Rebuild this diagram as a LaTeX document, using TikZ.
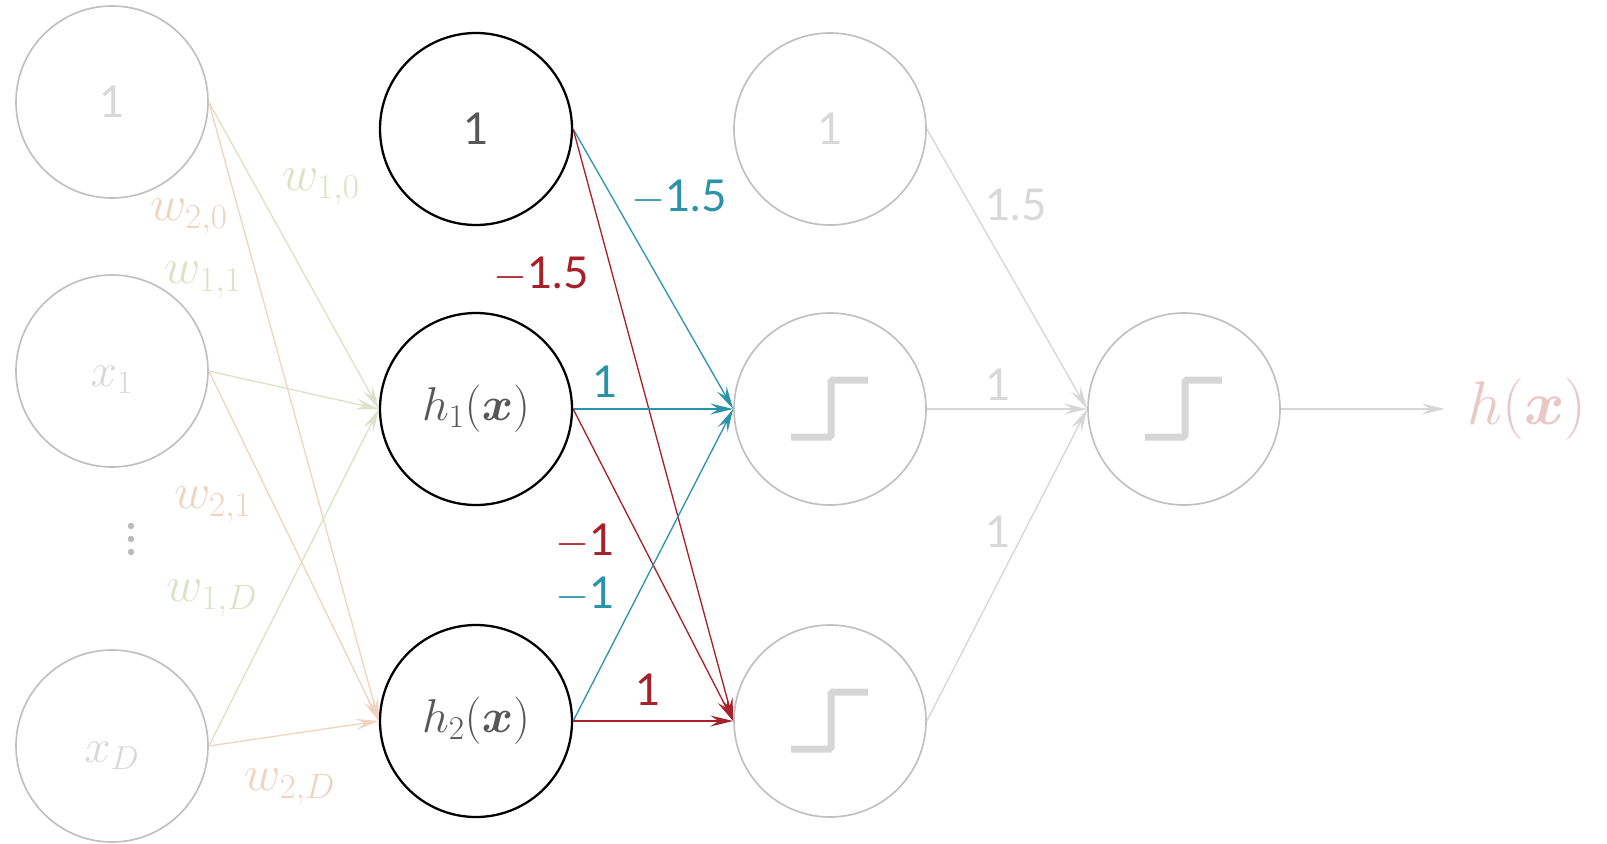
\RequirePackage{fix-cm}
\documentclass[tikz,border=0pt]{standalone}
\usepackage{amsmath,amssymb,bm}
\usepackage{fontspec}
\setmainfont{Lato}
\usepackage{tikz}
\usetikzlibrary{positioning,arrows.meta}
\usepackage{xcolor}
\definecolor{sage}{HTML}{DAE3C6}
\definecolor{peach}{HTML}{EFD4BF}
\definecolor{tealw}{HTML}{2B93A7}
\definecolor{redw}{HTML}{A82029}
\definecolor{ringgray}{HTML}{C0C0C0}
\definecolor{linegray}{HTML}{D6D6D6}
\definecolor{txtgray}{HTML}{D8D8D8}
\definecolor{darktxt}{HTML}{575757}
\definecolor{pinkw}{HTML}{E9C7C7}
\definecolor{dotgray}{HTML}{BBBBBB}
\newcommand{\mathbig}[1]{{\fontsize{27}{32}\selectfont$#1$}}
\newcommand{\wbig}[1]{{\fontsize{28.5}{34}\selectfont$#1$}}

\begin{document}
\begin{tikzpicture}[
  unit/.style={circle, draw=ringgray, line width=0.95pt, minimum size=3.84cm, inner sep=0pt, text=txtgray, font=\fontsize{25}{30}\selectfont},
  hid/.style={circle, draw=black, line width=1.3pt, minimum size=3.84cm, inner sep=0pt, text=darktxt, font=\fontsize{25}{30}\selectfont},
  act/.style={unit},
  lbl/.style={inner sep=1pt, font=\fontsize{25}{30}\selectfont},
  outlbl/.style={inner sep=0.45cm, text=pinkw, font=\fontsize{35}{42}\selectfont},
  stepln/.style={draw=linegray, line width=0.14cm, rounded corners=1pt},
  arr/.style={-{Stealth[length=0.46cm, width=0.22cm, inset=0.17cm]}, line width=0.75pt},
  on grid
]
  \useasboundingbox (0,0) rectangle (32.14,-16.86);

  \node[unit] (in0) at (2.24,-2.04) {1};
  \node[unit, below=5.38cm of in0] (in1) {\raisebox{-0.31cm}[0pt][0pt]{\mathbig{x_1}}};
  \node[unit, below=7.5cm of in1]  (inD) {\raisebox{-0.33cm}[0pt][0pt]{\mathbig{x_D}}};
  \coordinate (vd) at (2.62,-10.78);
  \foreach \k in {-1,0,1} \fill[dotgray] ([yshift=\k*0.26cm]vd) circle (0.065cm);

  \node[hid] (b1) at (9.52,-2.58) {1};
  \node[hid, below=5.6cm of b1]  (h1) {\mathbig{h_1(\bm{x})}};
  \node[hid, below=6.24cm of h1] (h2) {\mathbig{h_2(\bm{x})}};

  \node[unit, right=7.08cm of b1] (b2) {1};
  \node[act, right=7.08cm of h1]  (s1) {};
  \node[act, right=7.08cm of h2]  (s2) {};
  \node[act, right=7.08cm of s1]  (o)  {};
  \node[outlbl, right=6.86cm of o] (hx) {$h(\bm{x})$};
  \foreach \n in {s1,s2,o}
    \draw[stepln] ([shift={(-0.78,-0.56)}]\n.center) -- ++(0.80,0) -- ++(0,1.14) -- ++(0.74,0);

  \draw[arr, sage]  (in0.east) -- (h1.west); \draw[arr, peach] (in0.east) -- (h2.west);
  \draw[arr, sage]  (in1.east) -- (h1.west); \draw[arr, peach] (in1.east) -- (h2.west);
  \draw[arr, sage]  (inD.east) -- (h1.west); \draw[arr, peach] (inD.east) -- (h2.west);

  \draw[arr, tealw] (b1.east) -- (s1.west); \draw[arr, redw] (b1.east) -- (s2.west);
  \draw[arr, tealw] (h1.east) -- (s1.west); \draw[arr, redw] (h1.east) -- (s2.west);
  \draw[arr, tealw] (h2.east) -- (s1.west); \draw[arr, redw] (h2.east) -- (s2.west);

  \draw[arr, linegray] (b2.east) -- (o.west);
  \draw[arr, linegray] (s1.east) -- (o.west);
  \draw[arr, linegray] (s2.east) -- (o.west);
  \draw[arr, linegray] (o.east) -- (o.east -| hx.west);

  \node[lbl, text=sage]  (w10) at (6.42,-3.74)  {\wbig{w_{1,0}}};
  \node[lbl, text=peach] (w20) at (3.78,-4.34)  {\wbig{w_{2,0}}};
  \node[lbl, text=sage]  (w11) at (4.06,-5.60)  {\wbig{w_{1,1}}};
  \node[lbl, text=peach] (w21) at (4.26,-10.10) {\wbig{w_{2,1}}};
  \node[lbl, text=sage]  (w1D) at (4.24,-11.96) {\wbig{w_{1,D}}};
  \node[lbl, text=peach] (w2D) at (5.80,-15.74) {\wbig{w_{2,D}}};

  \node[lbl, text=tealw] (t0) at (13.58,-3.96)  {$-$1.5};
  \node[lbl, text=redw]  (r0) at (10.82,-5.50)  {$-$1.5};
  \node[lbl, text=tealw] (t1) at (12.10,-7.64)  {1};
  \node[lbl, text=redw]  (r1) at (11.70,-10.84) {$-$1};
  \node[lbl, text=tealw] (t2) at (11.70,-11.90) {$-$1};
  \node[lbl, text=redw]  (r2) at (12.96,-13.80) {1};

  \node[lbl, text=txtgray] (g0) at (20.32,-4.10)  {1.5};
  \node[lbl, text=txtgray] (g1) at (19.96,-7.70)  {1};
  \node[lbl, text=txtgray] (g2) at (19.96,-10.64) {1};
\end{tikzpicture}
\end{document}
